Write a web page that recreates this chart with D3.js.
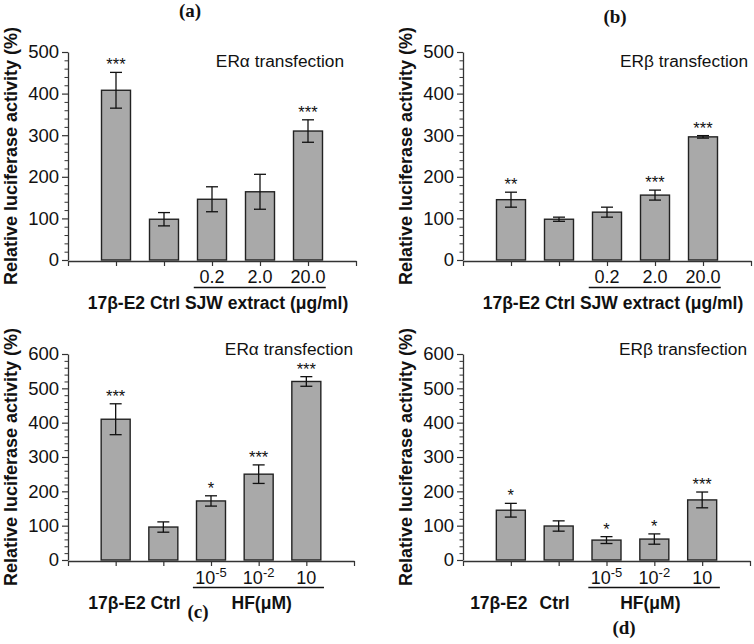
<!DOCTYPE html>
<html><head><meta charset="utf-8">
<script src="https://cdn.jsdelivr.net/npm/d3@7"></script>
<style>
html,body{margin:0;padding:0;background:#fff;}
svg{display:block;}
text{font-family:"Liberation Sans",Arial,sans-serif;fill:#111;}
.plab{font-family:"Liberation Serif","Times New Roman",serif;font-weight:bold;}
</style></head>
<body>
<svg id="chart" width="754" height="644"></svg>
<script>
// ---------- data ----------
const panelLabels = ["(a)", "(b)", "(c)", "(d)"];
const receptorLabels = ["ERα transfection", "ERβ transfection", "ERα transfection", "ERβ transfection"];
const yTitle = "Relative luciferase activity (%)";

const doseLabelsSJW = ["", "", "0.2", "2.0", "20.0"];
const doseLabelsHF = [["", ""], ["", ""], ["10", "-5"], ["10", "-2"], ["10", ""]];
const groupLabelSJW = "17β-E2 Ctrl SJW extract (μg/ml)";
const groupLabelsC = ["17β-E2 Ctrl", "HF(μM)"];
const groupLabelsD = ["17β-E2", "Ctrl", "HF(μM)"];

const yTicksAB = [0, 100, 200, 300, 400, 500];
const yTicksCD = [0, 100, 200, 300, 400, 500, 600];

const valuesA = [408, 98, 146, 164, 310];
const errorsA = [43, 16, 30, 42, 27];
const starsA  = ["***", "", "", "", "***"];

const valuesB = [145, 98, 115, 156, 296];
const errorsB = [18, 5, 12, 12, 3];
const starsB  = ["**", "", "", "***", "***"];

const valuesC = [410, 96, 172, 250, 520];
const errorsC = [45, 15, 15, 27, 14];
const starsC  = ["***", "", "*", "***", "***"];

const valuesD = [145, 99, 58, 61, 175];
const errorsD = [20, 15, 10, 15, 23];
const starsD  = ["*", "", "*", "*", "***"];

// ---------- layout ----------
const svg = d3.select("#chart");
const panels = [
  {vals: valuesA, errs: errorsA, stars: starsA, ticks: yTicksAB, ax: 68,  y0: 260, yT: 52,  w: 288, er: -12, erY: 15},
  {vals: valuesB, errs: errorsB, stars: starsB, ticks: yTicksAB, ax: 463, y0: 260, yT: 52,  w: 288, er: -3,  erY: 15},
  {vals: valuesC, errs: errorsC, stars: starsC, ticks: yTicksCD, ax: 68,  y0: 560, yT: 354, w: 286, er: -1,  erY: 1},
  {vals: valuesD, errs: errorsD, stars: starsD, ticks: yTicksCD, ax: 463, y0: 560, yT: 354, w: 287, er: -3,  erY: 1}
];
const labelPos = [[190, 17], [615, 23], [198, 618], [624, 634]];

panels.forEach((p, i) => {
  const g = svg.append("g");
  const yMax = d3.max(p.ticks);
  const x = d3.scaleLinear().domain([0, 6]).range([p.ax, p.ax + p.w]);
  const y = d3.scaleLinear().domain([0, yMax]).range([p.y0, p.yT]);
  const bw = 29;

  // bars
  g.selectAll("rect.bar").data(p.vals).join("rect")
    .attr("x", (d, k) => x(k + 1) - bw / 2)
    .attr("y", d => y(d))
    .attr("width", bw)
    .attr("height", d => y(0) - y(d))
    .attr("fill", "#a9a9a9")
    .attr("stroke", "#222")
    .attr("stroke-width", 1.4);

  // error bars
  const eg = g.append("g").attr("stroke", "#111").attr("stroke-width", 1.3);
  p.vals.forEach((v, k) => {
    const cx = x(k + 1), e = p.errs[k], cw = 6;
    eg.append("line").attr("x1", cx).attr("x2", cx).attr("y1", y(v - e)).attr("y2", y(v + e));
    eg.append("line").attr("x1", cx - cw).attr("x2", cx + cw).attr("y1", y(v + e)).attr("y2", y(v + e));
    eg.append("line").attr("x1", cx - cw).attr("x2", cx + cw).attr("y1", y(v - e)).attr("y2", y(v - e));
    if (p.stars[k]) {
      g.append("text").attr("x", cx).attr("y", y(v + e) - 2)
        .attr("text-anchor", "middle").attr("font-size", 16.5).attr("fill", "#222")
        .text(p.stars[k]);
    }
  });

  // y axis: minor + major
  const minorVals = d3.range(0, yMax + 1, 20).filter(v => v % 100 !== 0);
  g.append("g").attr("transform", `translate(${p.ax},0)`)
    .call(d3.axisLeft(y).tickValues(minorVals).tickSize(3.5).tickFormat("").tickSizeOuter(0))
    .call(s => s.select(".domain").remove())
    .call(s => s.selectAll("line").attr("stroke", "#333").attr("stroke-width", 1));
  const ya = g.append("g").attr("transform", `translate(${p.ax},0)`)
    .call(d3.axisLeft(y).tickValues(p.ticks).tickSize(6).tickSizeOuter(0).tickPadding(3))
    .call(s => s.select(".domain").attr("stroke", "#333").attr("stroke-width", 1.3))
    .call(s => s.selectAll("line").attr("stroke", "#333").attr("stroke-width", 1.2));
  ya.selectAll("text").attr("font-size", 18.5).attr("font-family", "Liberation Sans, Arial, sans-serif").attr("fill", "#111");

  // x axis
  g.append("g").attr("transform", `translate(0,${p.y0 + 1})`)
    .call(d3.axisBottom(x).tickValues(d3.range(0, 7)).tickSize(5).tickFormat("").tickSizeOuter(0))
    .call(s => s.select(".domain").attr("stroke", "#333").attr("stroke-width", 1.3))
    .call(s => s.selectAll("line").attr("stroke", "#333").attr("stroke-width", 1.2));

  // y title
  g.append("text")
    .attr("transform", `translate(${p.ax - 51},${(p.y0 + p.yT) / 2}) rotate(-90)`)
    .attr("text-anchor", "middle").attr("font-size", 18).attr("font-weight", "bold")
    .text(yTitle);

  // receptor label
  g.append("text").attr("x", x(6) + p.er).attr("y", p.yT + p.erY)
    .attr("text-anchor", "end").attr("font-size", 17.3).text(receptorLabels[i]);

  // dose labels
  const ny = p.y0 + 23;
  if (i < 2) {
    doseLabelsSJW.forEach((t, k) => {
      if (t) g.append("text").attr("x", x(k + 1)).attr("y", ny).attr("text-anchor", "middle").attr("font-size", 18).text(t);
    });
  } else {
    doseLabelsHF.forEach((t, k) => {
      if (!t[0]) return;
      const tx = g.append("text").attr("x", x(k + 1)).attr("y", ny + 1).attr("text-anchor", "middle").attr("font-size", 18);
      tx.append("tspan").text(t[0]);
      if (t[1]) tx.append("tspan").attr("font-size", 13).attr("dy", -7).text(t[1]);
    });
  }
  // underline
  g.append("line").attr("x1", x(2.62)).attr("x2", x(5.37)).attr("y1", p.y0 + 27.5).attr("y2", p.y0 + 27.5)
    .attr("stroke", "#111").attr("stroke-width", 1.3);

  // group labels
  const gy = p.y0 + 48.5;
  const bold = s => s.attr("font-size", 17.5).attr("font-weight", "bold").attr("text-anchor", "middle");
  if (i < 2) {
    g.append("text").attr("x", x(3) + 6).attr("y", gy).call(bold).text(groupLabelSJW);
  } else if (i === 2) {
    g.append("text").attr("x", x(1.5) - 5).attr("y", gy).call(bold).text(groupLabelsC[0]);
    g.append("text").attr("x", x(4) + 3).attr("y", gy).call(bold).text(groupLabelsC[1]);
  } else {
    g.append("text").attr("x", x(1) - 12).attr("y", gy).call(bold).text(groupLabelsD[0]);
    g.append("text").attr("x", x(2) - 4).attr("y", gy).call(bold).text(groupLabelsD[1]);
    g.append("text").attr("x", x(4) - 4).attr("y", gy).call(bold).text(groupLabelsD[2]);
  }

  // panel label
  svg.append("text").attr("class", "plab").attr("x", labelPos[i][0]).attr("y", labelPos[i][1])
    .attr("text-anchor", "middle").attr("font-size", 19).text(panelLabels[i]);
});
</script>
</body></html>
